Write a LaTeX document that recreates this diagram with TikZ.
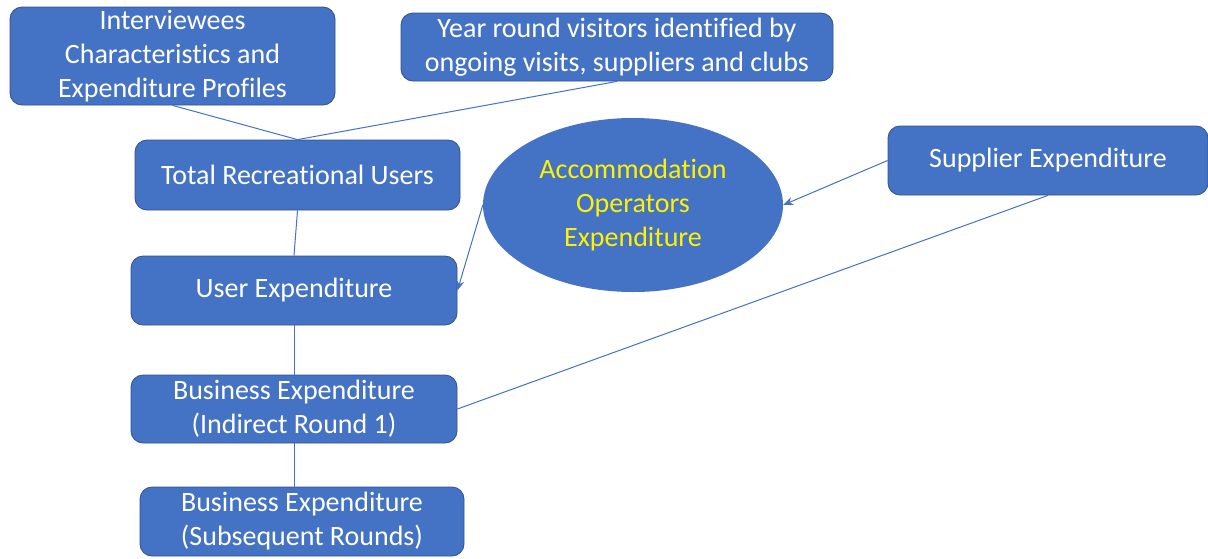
\documentclass[tikz,border=0pt]{standalone}
\usepackage{fontspec}
\setmainfont{Carlito}[Ligatures=NoCommon]
\usetikzlibrary{arrows.meta,shapes.geometric}
\definecolor{boxblue}{HTML}{4472C4}
\definecolor{edgeblue}{HTML}{2F528F}
\tikzset{
  blockbox/.style={draw=edgeblue, line width=0.8pt, fill=boxblue, rounded corners=12pt,
    text=white, align=center, inner sep=0pt, font=\fontsize{28}{34}\selectfont},
  link/.style={draw=boxblue, line width=1pt},
}

\begin{document}
\begin{tikzpicture}[x=1pt, y=-1pt, >={Stealth[length=10pt,width=8pt]}]
    \useasboundingbox (0,0) rectangle (1208,558);
    \node[blockbox, minimum width=325pt, minimum height=98pt] (intv) at (172.5,56) {Interviewees\\Characteristics and\\Expenditure Profiles};
    \node[blockbox, minimum width=432pt, minimum height=68pt] (year) at (617,47) {Year round visitors identified by\\ongoing visits, suppliers and clubs};
    \node[blockbox, minimum width=325pt, minimum height=70pt] (total) at (297.5,175) {Total Recreational Users};
    \node[ellipse, fill=boxblue, minimum width=300pt, minimum height=174pt, inner sep=0pt,
      text=yellow, align=center, font=\fontsize{28}{34}\selectfont] (acc) at (633,205) {Accommodation\\Operators\\Expenditure};
    \node[blockbox, minimum width=320pt, minimum height=69pt] (sup) at (1048,160.5) {Supplier Expenditure};
    \node[blockbox, minimum width=326pt, minimum height=69pt] (user) at (294,290.5) {User Expenditure};
    \node[blockbox, minimum width=326pt, minimum height=68pt] (bus1) at (294,409) {Business Expenditure\\(Indirect Round 1)};
    \node[blockbox, minimum width=324pt, minimum height=69pt] (bus2) at (302,521.5) {Business Expenditure\\(Subsequent Rounds)};

    \draw[link] (intv.south) -- (total.north);
    \draw[link] (year.south) -- (total.north);
    \draw[link] (total.south) -- (user.north);
    \draw[link] (user.south) -- (bus1.north);
    \draw[link] (bus1.south) -- (bus1.south |- bus2.north);
    \draw[link, ->] (acc.west) -- (user.east);
    \draw[link, ->] (sup.west) -- (acc.east);
    \draw[link] (sup.south) -- (bus1.east);
\end{tikzpicture}
\end{document}
